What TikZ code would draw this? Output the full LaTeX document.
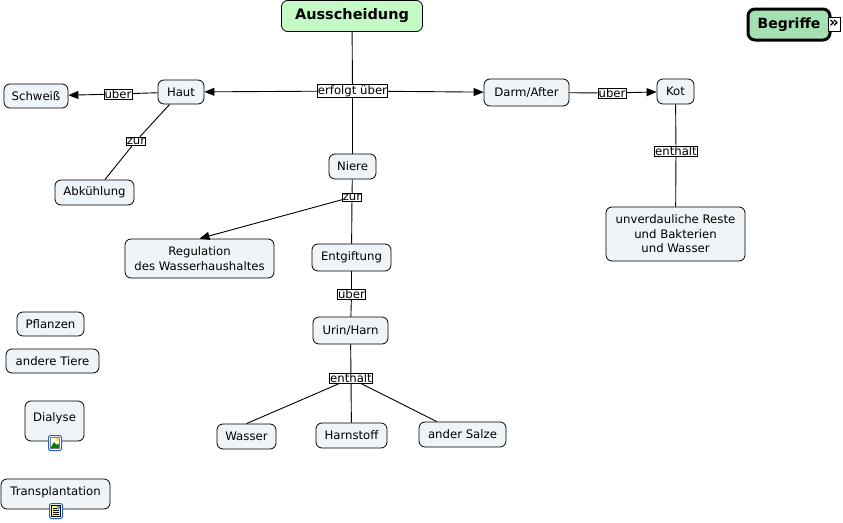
\documentclass[tikz,border=0pt]{standalone}
\usepackage{fontspec}
\setmainfont{DejaVu Sans}
\usetikzlibrary{arrows.meta}
\definecolor{nodefill}{RGB}{238,244,247}
\definecolor{ausfill}{RGB}{196,248,196}
\definecolor{begfill}{RGB}{164,224,178}
\definecolor{iconblue}{RGB}{40,100,200}
\newcommand{\cfont}{\fontsize{11.7}{14.5}\selectfont}
\begin{document}
\begin{tikzpicture}[x=1pt,y=-1pt,
  concept/.style={draw=black, line width=0.8pt, rounded corners=6pt, fill=nodefill,
    font=\cfont, align=center, inner sep=2pt},
  lab/.style={draw=black, line width=0.6pt, fill=white, inner sep=0.6pt, font=\cfont},
  conn/.style={draw=black, line width=0.9pt},
  arr/.style={conn, -{Triangle[length=10pt,width=8pt]}}]
\useasboundingbox[fill=white] (0,0) rectangle (843,522);

% concepts
\node[concept, fill=ausfill, font=\bfseries\fontsize{14.5}{17}\selectfont, minimum width=141pt, minimum height=31pt] (aus) at (352,16) {Ausscheidung};
\node[concept, fill=begfill, line width=3pt, rounded corners=7pt, font=\bfseries\fontsize{14}{17}\selectfont, minimum width=82pt, minimum height=31pt] (beg) at (789,24.5) {Begriffe};
\node[draw=black, line width=0.6pt, fill=white, inner sep=0pt, minimum width=12pt, minimum height=14pt, font=\bfseries\fontsize{15}{15}\selectfont] (beglink) at (834,24) {»};

\node[concept, minimum width=46pt, minimum height=24pt] (haut) at (181,92) {Haut};
\node[concept, minimum width=64pt, minimum height=24pt] (schweiss) at (36,96) {Schweiß};
\node[concept, minimum width=79pt, minimum height=25pt] (abk) at (94.5,192.5) {Abkühlung};
\node[concept, minimum width=85pt, minimum height=27pt] (darm) at (526.5,92.5) {Darm/After};
\node[concept, minimum width=37pt, minimum height=25pt] (kot) at (675.5,91.5) {Kot};
\node[concept, minimum width=139pt, minimum height=54pt] (unv) at (675.5,234) {unverdauliche Reste\\und Bakterien\\und Wasser};
\node[concept, minimum width=47pt, minimum height=25pt] (niere) at (352.5,166.5) {Niere};
\node[concept, minimum width=149pt, minimum height=39pt] (reg) at (199.5,258.5) {Regulation\\des Wasserhaushaltes};
\node[concept, minimum width=79pt, minimum height=27pt] (entg) at (351.5,257.5) {Entgiftung};
\node[concept, minimum width=75pt, minimum height=27pt] (urin) at (350.5,330.5) {Urin/Harn};
\node[concept, minimum width=59pt, minimum height=25pt] (wasser) at (246.5,436.5) {Wasser};
\node[concept, minimum width=71pt, minimum height=25pt] (harn) at (351.5,435.5) {Harnstoff};
\node[concept, minimum width=87pt, minimum height=25pt] (salze) at (462.5,434.5) {ander Salze};
\node[concept, minimum width=67pt, minimum height=24pt] (pfl) at (50.5,324) {Pflanzen};
\node[concept, minimum width=93pt, minimum height=24pt] (tiere) at (52.5,361) {andere Tiere};
\node[concept, minimum width=59pt, minimum height=40pt, text depth=7pt] (dial) at (54.5,421) {Dialyse};
\node[concept, minimum width=109pt, minimum height=30pt, text depth=5pt] (trans) at (55.5,494) {Transplantation};

% icons
\node[draw=iconblue, line width=1pt, fill=white, rounded corners=1.5pt, minimum width=13pt, minimum height=15pt, inner sep=0pt] (dialicon) at (55,443) {};
\begin{scope}[shift={(dialicon.center)}]
  \fill[green!50!black] (-4.5,5) -- (-1,-1) -- (1.5,2) -- (3,0.5) -- (4.5,2.5) -- (4.5,5) -- cycle;
  \fill[yellow!90!orange] (2.5,-3.5) circle (1.8pt);
  \draw[gray, line width=0.4pt] (-4.5,-5.5) rectangle (4.5,5.5);
\end{scope}
\node[draw=iconblue, line width=1pt, fill=white, rounded corners=1.5pt, minimum width=13pt, minimum height=15pt, inner sep=0pt] (transicon) at (56,511) {};
\begin{scope}[shift={(transicon.center)}]
  \fill[yellow!60!white, draw=black, line width=0.4pt] (-4.5,-5.5) rectangle (4.5,5.5);
  \foreach \yy in {-3,-1,1,3}{\draw[black, line width=0.6pt] (-3,\yy) -- (3,\yy);}
  \fill[iconblue!70] (1,-5) rectangle (4,-2);
\end{scope}

% linking phrases
\node[lab] (l1) at (352.5,91) {erfolgt über};
\node[lab] (l2) at (118,94) {über};
\node[lab] (l3) at (136,141) {zur};
\node[lab] (l4) at (352,197) {zur};
\node[lab] (l5) at (351.5,294) {über};
\node[lab] (l6) at (351,378.5) {enthält};
\node[lab] (l7) at (612,93) {über};
\node[lab] (l8) at (676,151) {enthält};

% connectors
\draw[conn] (aus) -- (l1);
\draw[arr] (l1) -- (haut);
\draw[arr] (l1) -- (darm);
\draw[conn] (l1) -- (niere);
\draw[conn] (haut) -- (l2);
\draw[arr] (l2) -- (schweiss);
\draw[conn] (haut) -- (l3);
\draw[conn] (l3) -- (abk);
\draw[conn] (niere) -- (l4);
\draw[arr] (l4) -- (reg.north);
\draw[conn] (l4) -- (entg);
\draw[conn] (entg) -- (l5);
\draw[conn] (l5) -- (urin);
\draw[conn] (urin) -- (l6);
\draw[conn] (l6) -- (wasser.north);
\draw[conn] (l6) -- (harn);
\draw[conn] (l6) -- (salze);
\draw[conn] (darm) -- (l7);
\draw[arr] (l7) -- (kot);
\draw[conn] (kot) -- (l8);
\draw[conn] (l8) -- (unv);
\end{tikzpicture}
\end{document}
